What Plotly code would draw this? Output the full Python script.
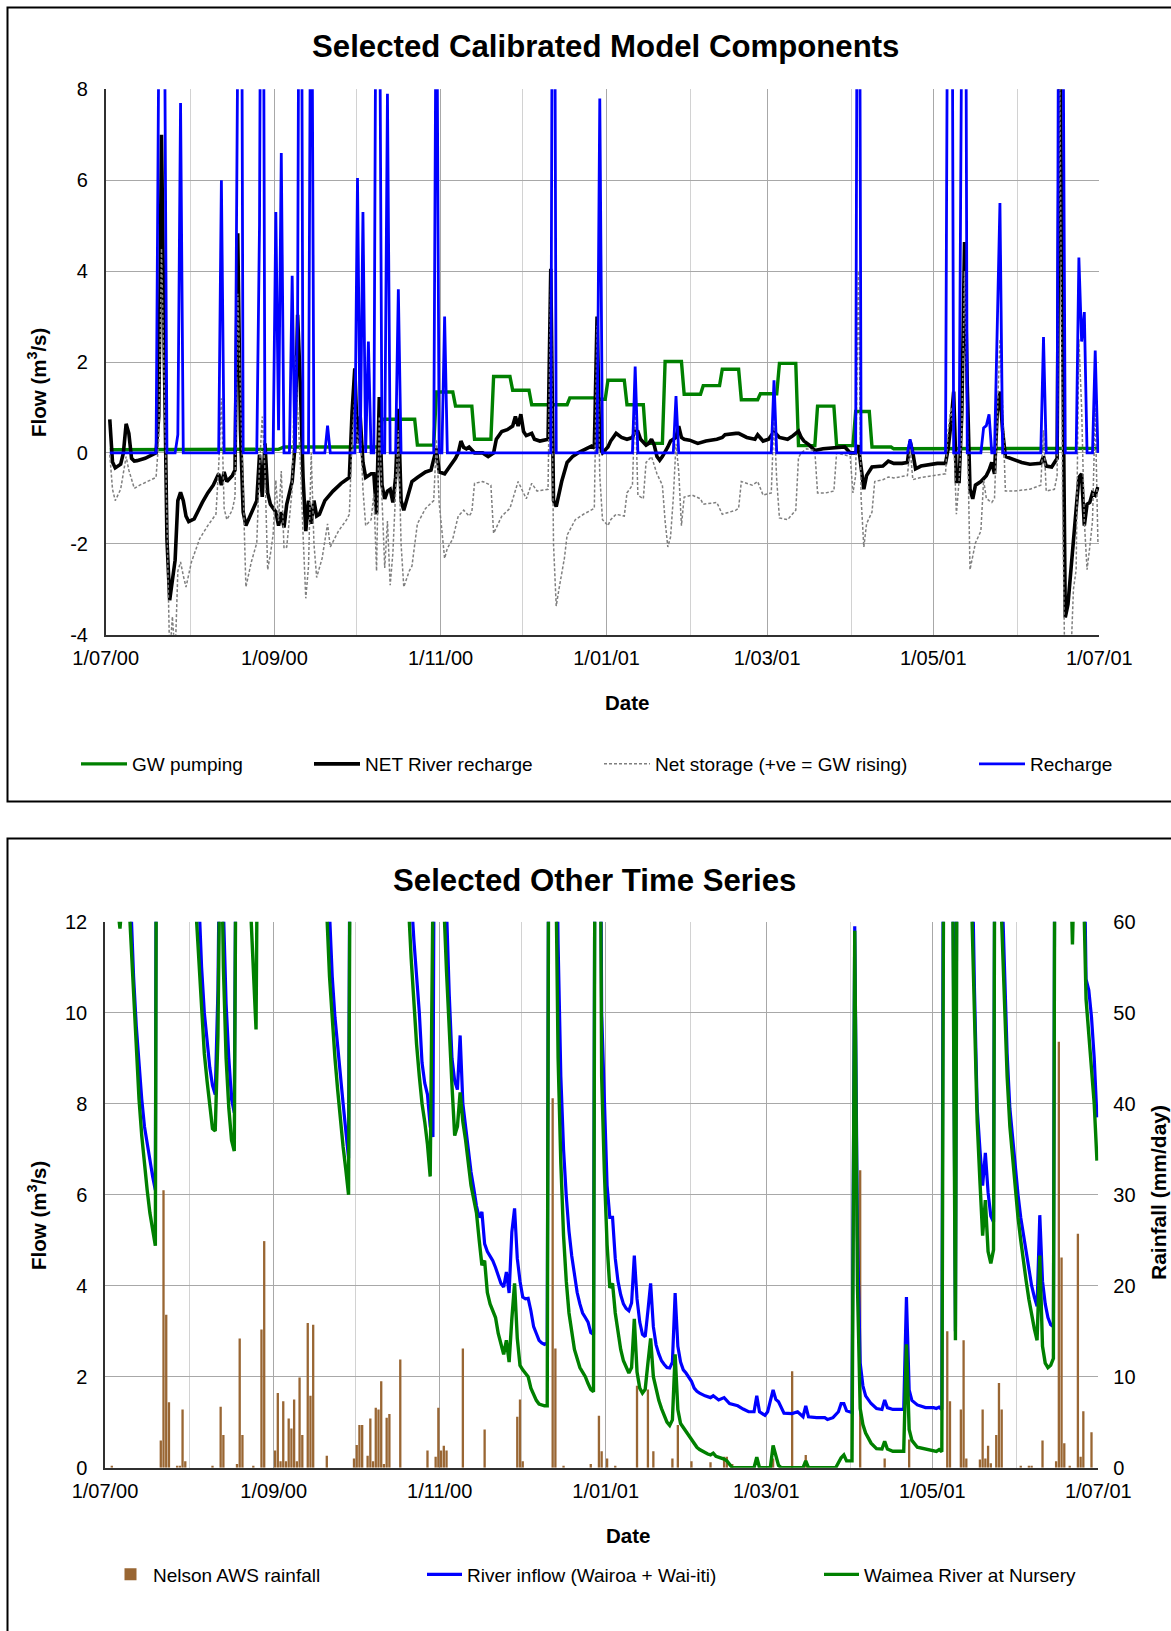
import pandas as pd
import plotly.graph_objects as go

W, H = 1171, 1631
FONT = "Liberation Sans, Arial, sans-serif"
START = pd.Timestamp("2000-07-01")
END = pd.Timestamp("2001-07-01")

# ---------------- data (day offset from 1 Jul 2000, value) ----------------
# Top chart: Selected Calibrated Model Components (m3/s)
GW_PUMPING = [
    (1, 0.07), (63, 0.08), (65, 0.13), (100, 0.13), (101, 0.74), (113, 0.74), (114, 0.17),
    (120, 0.17), (121, 1.34), (127, 1.34), (128, 1.03), (134, 1.03), (135, 0.3), (141, 0.3),
    (142, 1.68), (148, 1.68), (149, 1.38), (155, 1.38), (156, 1.06), (169, 1.06), (170, 1.21),
    (179, 1.21), (180, 1.18), (183, 1.18), (184, 1.6), (190, 1.6), (191, 1.06), (197, 1.06),
    (198, 0.21), (204, 0.21), (205, 2.01), (211, 2.01), (212, 1.29), (218, 1.29), (219, 1.48),
    (225, 1.48), (226, 1.84), (232, 1.84), (233, 1.17), (239, 1.17), (240, 1.3), (246, 1.3),
    (247, 1.97), (253, 1.97), (254, 0.16), (260, 0.16), (261, 1.03), (267, 1.03), (268, 0.16),
    (274, 0.16), (275, 0.91), (280, 0.91), (281, 0.13), (288, 0.13), (289, 0.09), (364, 0.1),
]

NET_RIVER_RECHARGE = [
    (1, 0.74), (2, -0.2), (3, -0.33), (4, -0.3), (5, -0.25), (6, 0.0), (7, 0.64), (8, 0.43),
    (9, -0.12), (10, -0.18), (11, -0.17), (14, -0.12), (17, -0.04), (18, 0.0), (19, 0.8),
    (20, 7.0), (21, 2.3), (22, -1.9), (23, -3.24), (24, -2.74), (25, -2.36), (26, -1.05),
    (27, -0.87), (28, -1.05), (29, -1.39), (30, -1.51), (32, -1.45), (35, -1.09), (37, -0.88),
    (39, -0.71), (41, -0.46), (42, -0.71), (43, -0.42), (44, -0.63), (46, -0.5), (47, -0.38),
    (48, 4.83), (49, 0.5), (50, -1.3), (51, -1.6), (53, -1.3), (55, -1.05), (56, -0.04),
    (57, -0.97), (58, 0.21), (59, -0.88), (60, -1.13), (62, -1.3), (63, -1.6), (64, -1.3),
    (65, -1.64), (66, -1.13), (67, -0.88), (68, -0.63), (69, 0.13), (70, 3.04), (71, 1.48),
    (72, -0.54), (73, -1.72), (74, -1.05), (75, -1.56), (76, -1.05), (77, -1.39), (78, -1.35),
    (80, -1.05), (83, -0.84), (86, -0.67), (89, -0.54), (90, 0.89), (91, 1.86), (92, 0.21),
    (93, 0.8), (94, -0.21), (95, -0.54), (97, -0.46), (98, -0.46), (99, -1.35), (100, 1.23),
    (101, -0.71), (102, -1.01), (103, -0.84), (104, -0.8), (105, -1.09), (106, -0.54),
    (107, 0.97), (108, -1.05), (109, -1.26), (111, -0.88), (112, -0.63), (114, -0.54),
    (117, -0.42), (119, -0.38), (120, -0.12), (121, 0.1), (122, -0.42), (124, -0.46),
    (126, -0.29), (128, -0.12), (129, 0.0), (130, 0.26), (131, 0.12), (132, 0.09), (133, 0.13),
    (135, 0.0), (138, 0.0), (140, -0.08), (142, 0.0), (143, 0.3), (145, 0.47), (147, 0.51),
    (149, 0.59), (150, 0.8), (151, 0.59), (152, 0.85), (153, 0.47), (154, 0.38), (156, 0.43),
    (157, 0.3), (159, 0.26), (162, 0.3), (163, 4.05), (164, -1.05), (165, -1.18), (167, -0.63),
    (169, -0.21), (171, -0.08), (173, 0.0), (176, 0.09), (178, 0.15), (179, 0.11), (180, 3.0),
    (181, 0.13), (182, 0.0), (184, 0.13), (185, 0.26), (187, 0.43), (189, 0.34), (191, 0.3),
    (193, 0.34), (194, 0.48), (195, 0.47), (196, 0.3), (198, 0.17), (199, 0.21), (200, 0.3),
    (201, 0.17), (202, -0.08), (203, -0.16), (204, -0.08), (206, 0.13), (207, 0.26), (209, 0.34),
    (210, 0.59), (211, 0.34), (212, 0.3), (214, 0.28), (217, 0.21), (220, 0.26), (224, 0.3),
    (226, 0.34), (227, 0.4), (231, 0.43), (232, 0.43), (235, 0.34), (238, 0.3), (239, 0.4),
    (241, 0.26), (243, 0.3), (245, 0.47), (247, 0.34), (250, 0.3), (252, 0.38), (254, 0.48),
    (255, 0.34), (256, 0.26), (258, 0.17), (260, 0.05), (263, 0.09), (265, 0.1), (268, 0.13),
    (271, 0.13), (273, 0.0), (275, 0.0), (276, 0.17), (277, -0.3), (278, -0.8), (279, -0.5),
    (281, -0.31), (285, -0.29), (287, -0.18), (289, -0.23), (292, -0.23), (294, -0.21),
    (295, 0.26), (296, 0.0), (297, -0.35), (299, -0.29), (302, -0.25), (305, -0.23),
    (308, -0.23), (309, 0.1), (310, 0.64), (311, 1.35), (312, -0.63), (313, -0.63), (314, 0.89),
    (315, 4.64), (316, 1.48), (317, -0.8), (318, -1.01), (319, -0.71), (321, -0.63), (323, -0.5),
    (324, -0.38), (325, -0.21), (326, -0.46), (327, 0.89), (328, 1.35), (329, 0.47), (330, -0.08),
    (333, -0.15), (336, -0.21), (339, -0.25), (343, -0.23), (344, -0.08), (345, -0.29),
    (347, -0.31), (349, -0.12), (350, 9.5), (351, 2.0), (352, -3.62), (353, -3.33), (354, -2.57),
    (355, -1.89), (356, -1.26), (357, -0.54), (358, -0.46), (359, -1.6), (360, -1.13),
    (361, -1.09), (362, -0.88), (363, -0.93), (364, -0.75),
]

NET_STORAGE = [
    (1, -0.04), (2, -0.8), (3, -1.05), (5, -0.8), (7, -0.08), (8, -0.38), (10, -0.78), (12, -0.71),
    (18, -0.54), (19, 0.3), (20, 4.5), (21, 1.5), (22, -1.5), (23, -4.5), (24, -3.6), (25, -4.5),
    (26, -2.6), (27, -2.4), (28, -2.7), (29, -2.95), (31, -2.4), (34, -1.89), (37, -1.6),
    (40, -1.35), (41, -0.3), (42, 1.2), (43, -1.22), (44, -1.47), (46, -1.26), (47, -0.97),
    (48, 3.5), (49, 1.5), (50, -0.5), (51, -2.95), (53, -2.4), (55, -1.98), (56, -0.3), (57, 0.8),
    (58, -0.4), (59, -2.57), (60, -2.23), (61, -1.8), (62, -0.6), (63, -1.5), (64, -0.4),
    (65, -2.1), (66, -2.07), (67, -1.5), (68, -0.8), (69, 2.15), (70, 1.0), (71, -0.2),
    (72, -1.8), (73, -3.2), (74, -2.5), (75, 0.0), (76, -2.0), (77, -2.74), (79, -2.32),
    (81, -1.56), (82, -2.07), (85, -1.72), (88, -1.47), (89, -1.35), (90, 0.3), (91, 1.2),
    (92, 0.2), (93, 0.6), (94, -0.8), (95, -1.6), (97, -1.47), (98, -0.9), (99, -2.6), (100, 0.8),
    (101, -1.0), (102, -2.53), (103, -1.5), (104, -2.91), (105, -2.2), (106, -0.8), (107, 0.5),
    (108, -2.0), (109, -2.95), (111, -2.6), (112, -2.49), (114, -1.56), (117, -1.22),
    (120, -1.05), (121, 0.3), (122, -1.1), (123, -1.8), (124, -2.32), (125, -2.1), (127, -1.89),
    (129, -1.39), (131, -1.26), (133, -1.39), (134, -1.3), (135, -0.67), (138, -0.63),
    (141, -0.71), (142, -1.77), (145, -1.39), (148, -1.22), (151, -0.63), (154, -1.01),
    (156, -0.67), (158, -0.84), (162, -0.8), (163, 3.8), (164, -2.0), (165, -3.37), (166, -3.0),
    (168, -2.32), (169, -1.81), (172, -1.47), (175, -1.35), (178, -1.26), (179, -1.22),
    (180, 2.8), (181, -0.5), (182, -1.47), (184, -1.6), (185, -1.47), (187, -1.35), (190, -1.39),
    (191, -0.88), (193, -0.71), (194, 1.2), (195, -0.93), (197, -1.01), (198, -0.21),
    (200, -0.08), (202, -0.46), (204, -0.71), (205, -1.5), (206, -2.07), (207, -1.85),
    (208, -1.0), (209, 0.2), (210, -0.4), (211, -1.6), (212, -0.97), (215, -0.93), (218, -1.01),
    (219, -1.13), (224, -1.09), (226, -1.35), (231, -1.26), (232, -1.22), (233, -0.63),
    (237, -0.71), (239, -0.63), (241, -0.93), (244, -0.88), (245, 0.8), (246, -0.6), (247, -1.43),
    (250, -1.47), (253, -1.26), (254, -0.1), (255, 0.0), (257, 0.09), (260, 0.05), (261, -0.88),
    (264, -0.88), (267, -0.84), (268, 0.0), (273, -0.08), (274, -0.88), (275, -0.5), (276, 4.0),
    (277, -1.0), (278, -2.07), (279, -1.56), (281, -1.3), (282, -0.63), (285, -0.59),
    (287, -0.53), (289, -0.55), (294, -0.5), (295, 0.1), (296, -0.59), (299, -0.54), (303, -0.5),
    (308, -0.46), (309, 0.5), (310, 1.0), (311, 0.4), (312, -1.35), (313, -0.6), (314, 0.5),
    (315, 4.0), (316, 0.5), (317, -2.57), (319, -1.98), (321, -1.72), (322, -0.6), (323, -1.0),
    (324, -1.05), (325, -1.09), (326, -1.0), (327, 0.6), (328, 2.5), (329, 1.0), (330, -0.84),
    (333, -0.84), (339, -0.8), (343, -0.71), (344, 0.5), (345, -0.84), (348, -0.8), (349, -0.5),
    (350, 8.5), (351, -1.0), (352, -5.5), (353, -5.0), (354, -4.6), (355, -3.0), (356, -2.57),
    (357, 2.5), (358, 1.0), (359, -1.5), (360, -2.57), (361, -2.07), (362, -1.5), (363, 1.0),
    (364, -2.0),
]

RECHARGE = [
    (1, 0), (18, 0), (19, 9), (20, 20), (21, 11), (22, 0), (25, 0), (26, 0.4), (27, 7.7), (28, 0),
    (41, 0), (42, 6.0), (43, 0), (47, 0), (48, 9), (49, 20), (50, 0), (55, 0), (56, 5), (57, 20),
    (58, 0), (61, 0), (62, 5.3), (63, 0.5), (64, 6.6), (65, 0), (67, 0), (68, 3.9), (69, 0),
    (70, 3), (71, 20), (72, 0), (74, 0), (75, 14), (76, 0), (80, 0), (81, 0.6), (82, 0), (91, 0),
    (92, 6.05), (93, 0), (94, 5.3), (95, 0), (96, 2.45), (97, 0), (98, 0), (99, 14), (100, 12),
    (101, 0), (102, 0), (103, 7.9), (104, 0), (106, 0), (107, 3.6), (108, 0), (120, 0), (121, 12),
    (122, 0), (123, 0), (124, 3.0), (125, 0), (163, 0), (164, 20), (165, 0), (180, 0), (181, 7.8),
    (182, 0), (193, 0), (194, 1.9), (195, 0), (208, 0), (209, 1.25), (210, 0), (244, 0),
    (245, 1.6), (246, 0), (275, 0), (276, 20), (277, 0), (294, 0), (295, 0.3), (296, 0), (308, 0),
    (309, 14), (310, 20), (311, 0), (313, 0), (314, 9), (315, 20), (316, 0), (321, 0), (322, 0.55),
    (323, 0.6), (324, 0.85), (325, 0), (326, 0), (327, 2.5), (328, 5.5), (329, 0), (343, 0),
    (344, 2.55), (345, 0), (349, 0), (350, 20), (351, 12), (352, 0), (356, 0), (357, 4.3),
    (358, 2.45), (359, 3.1), (360, 0), (362, 0), (363, 2.25), (364, 0),
]

# Bottom chart: Selected Other Time Series
RAINFALL = [  # mm/day
    (2, 0.2), (20, 3.0), (21, 30.5), (22, 16.8), (23, 7.2), (26, 0.2), (27, 0.2), (28, 6.4),
    (29, 0.7), (39, 0.2), (42, 6.7), (43, 3.6), (48, 0.4), (49, 14.2), (50, 3.6), (54, 0.2),
    (57, 15.2), (58, 24.9), (62, 1.9), (63, 8.2), (64, 0.7), (65, 7.3), (66, 0.7), (67, 5.4),
    (68, 4.3), (69, 7.5), (70, 0.7), (71, 9.9), (72, 3.6), (74, 15.9), (75, 7.9), (76, 15.7),
    (81, 1.3), (91, 1.0), (92, 2.5), (93, 4.7), (94, 4.7), (96, 1.3), (97, 5.4), (98, 0.7),
    (99, 6.6), (100, 6.4), (101, 9.5), (102, 0.4), (103, 5.5), (104, 5.9), (108, 11.9),
    (118, 1.9), (121, 1.2), (122, 6.6), (123, 1.9), (124, 2.4), (125, 1.9), (131, 13.1),
    (139, 4.2), (151, 5.6), (152, 7.5), (153, 0.7), (164, 40.6), (165, 13.1), (168, 0.2),
    (178, 0.4), (181, 5.7), (182, 1.8), (184, 1.0), (187, 0.2), (195, 9.0), (199, 8.6),
    (201, 1.8), (208, 1.0), (210, 4.7), (215, 0.7), (222, 0.6), (227, 1.2), (228, 1.2),
    (230, 0.4), (245, 1.0), (252, 10.6), (257, 1.4), (277, 32.7), (286, 1.0), (295, 3.1),
    (309, 15.0), (310, 7.3), (314, 6.4), (315, 14.0), (316, 1.0), (321, 0.9), (322, 6.4),
    (323, 1.0), (324, 2.4), (325, 0.5), (327, 3.6), (328, 9.3), (329, 6.4), (336, 0.2),
    (339, 0.2), (340, 0.2), (344, 3.0), (349, 0.7), (350, 46.8), (351, 23.1), (352, 2.7),
    (354, 0.2), (357, 25.7), (358, 1.2), (359, 6.2), (362, 3.9),
]

RIVER_INFLOW = [  # Wairoa + Wai-iti, m3/s
    (0, 25), (4, 18), (8, 14), (9, 12.4), (10, 10.8), (11, 9.7), (12, 8.8), (13, 8.1), (14, 7.5),
    (15, 7.1), (16, 6.75), (17, 6.4), (18, 6.1), (19, 32), (25, 24), (30, 17), (33, 14),
    (34, 12.3), (35, 11.0), (36, 10.0), (37, 9.3), (38, 8.8), (39, 8.4), (40, 8.2), (41, 10.5),
    (42, 16), (43, 12.3), (44, 10.2), (45, 9.0), (46, 8.1), (47, 7.8), (48, 18), (55, 13.5),
    (56, 18), (70, 22), (80, 15), (81, 13.6), (82, 12.0), (83, 10.8), (84, 9.9), (85, 9.2),
    (86, 8.6), (87, 8.0), (88, 7.4), (89, 6.8), (90, 22), (100, 24), (110, 15), (111, 14.0),
    (112, 12.6), (113, 11.6), (114, 10.8), (115, 10.0), (116, 8.9), (117, 8.45), (118, 8.2),
    (119, 7.5), (120, 7.27), (121, 22), (123, 16), (124, 14), (125, 12.2), (126, 10.4),
    (127, 9.0), (128, 8.5), (129, 8.31), (130, 9.5), (131, 8.0), (132, 7.5), (133, 6.9),
    (134, 6.5), (135, 6.14), (136, 5.75), (137, 5.5), (138, 5.62), (139, 4.92), (140, 4.75),
    (141, 4.65), (142, 4.55), (143, 4.4), (144, 4.2), (145, 4.05), (146, 3.97), (147, 4.3),
    (148, 3.84), (149, 5.18), (150, 5.7), (151, 4.6), (152, 4.1), (153, 3.75), (154, 3.71),
    (155, 3.72), (156, 3.45), (157, 3.1), (158, 2.95), (159, 2.8), (160, 2.74), (161, 2.71),
    (162, 2.74), (163, 25), (165, 16), (166, 11.5), (167, 8.6), (168, 7.0), (169, 5.97),
    (170, 5.2), (171, 4.66), (172, 4.2), (173, 3.85), (174, 3.6), (175, 3.4), (176, 3.3),
    (177, 3.2), (178, 2.97), (179, 2.93), (180, 25), (181, 22), (182, 10.0), (183, 7.8),
    (184, 6.2), (185, 5.5), (186, 5.5), (187, 4.6), (188, 4.1), (189, 3.8), (190, 3.6),
    (191, 3.5), (192, 3.45), (193, 3.62), (194, 4.66), (195, 3.71), (196, 3.2), (197, 2.93),
    (198, 2.88), (199, 3.45), (200, 4.05), (201, 3.1), (202, 2.7), (203, 2.5), (204, 2.35),
    (205, 2.27), (206, 2.2), (207, 2.19), (208, 2.32), (209, 3.84), (210, 2.67), (211, 2.32),
    (212, 2.15), (213, 2.08), (214, 2.0), (215, 1.9), (216, 1.75), (217, 1.68), (218, 1.64),
    (220, 1.58), (222, 1.54), (223, 1.58), (225, 1.49), (227, 1.54), (229, 1.41), (232, 1.36),
    (234, 1.29), (236, 1.23), (238, 1.23), (239, 1.58), (240, 1.23), (242, 1.15), (243, 1.23),
    (245, 1.71), (246, 1.5), (247, 1.45), (249, 1.2), (252, 1.19), (254, 1.23), (256, 1.12),
    (257, 1.36), (258, 1.12), (261, 1.1), (264, 1.1), (265, 1.06), (267, 1.1), (269, 1.23),
    (270, 1.41), (271, 1.41), (272, 1.25), (274, 1.21), (275, 11.9), (276, 5.1), (277, 2.3),
    (278, 1.8), (279, 1.58), (281, 1.41), (283, 1.3), (285, 1.28), (286, 1.49), (287, 1.32),
    (289, 1.28), (293, 1.28), (294, 3.75), (295, 1.71), (296, 1.48), (298, 1.38), (301, 1.32),
    (304, 1.32), (305, 1.3), (306, 1.33), (307, 1.28), (308, 25), (310, 30), (311, 14),
    (312, 3.0), (313, 25), (316, 20), (317, 16), (318, 14.0), (319, 10.5), (320, 7.9), (321, 7.0),
    (322, 6.2), (323, 6.92), (324, 6.05), (325, 5.53), (326, 5.4), (327, 25), (328, 16),
    (329, 13.0), (330, 10.8), (331, 9.1), (332, 7.9), (333, 7.2), (334, 6.5), (335, 6.0),
    (336, 5.5), (337, 5.1), (338, 4.7), (339, 4.35), (340, 4.0), (341, 3.75), (342, 3.55),
    (343, 5.55), (344, 4.1), (345, 3.6), (346, 3.3), (347, 3.14), (348, 3.1), (349, 25),
    (359, 15), (360, 10.74), (361, 10.5), (362, 9.9), (363, 9.0), (364, 7.7),
]

WAIMEA_NURSERY = [  # m3/s
    (0, 22), (3, 16), (4, 12.4), (5, 11.85), (6, 12.6), (7, 13.6), (8, 12.8), (9, 11.6),
    (10, 10.2), (11, 9.0), (12, 8.1), (13, 7.3), (14, 6.6), (15, 6.1), (16, 5.6), (17, 5.2),
    (18, 4.88), (19, 30), (25, 22), (30, 15), (32, 13.2), (33, 12.2), (34, 10.9), (35, 9.9),
    (36, 9.1), (37, 8.5), (38, 7.9), (39, 7.45), (40, 7.4), (41, 9.5), (42, 15), (43, 11.0),
    (44, 9.0), (45, 7.9), (46, 7.2), (47, 6.96), (48, 18), (52, 14), (53, 12.3), (54, 10.8),
    (55, 9.63), (56, 18), (70, 20), (78, 15), (80, 13.2), (81, 12.2), (82, 10.8), (83, 9.8),
    (84, 9.0), (85, 8.3), (86, 7.6), (87, 7.05), (88, 6.55), (89, 6.0), (90, 20), (100, 22),
    (108, 15), (110, 13.3), (111, 12.4), (112, 11.2), (113, 10.2), (114, 9.3), (115, 8.6),
    (116, 8.0), (117, 7.6), (118, 7.1), (119, 6.4), (120, 20), (122, 25), (123, 15),
    (124, 12.4), (125, 10.9), (126, 9.5), (127, 8.4), (128, 7.3), (129, 7.5), (130, 8.25),
    (131, 7.6), (132, 7.2), (133, 6.7), (134, 6.2), (135, 5.9), (136, 5.6), (137, 5.0),
    (138, 4.45), (139, 4.55), (140, 3.85), (141, 3.6), (142, 3.45), (143, 3.3), (144, 2.95),
    (145, 2.7), (146, 2.49), (147, 2.8), (148, 2.32), (149, 3.27), (150, 4.05), (151, 2.84),
    (152, 2.25), (153, 2.15), (154, 2.08), (155, 2.0), (156, 1.75), (157, 1.6), (158, 1.48),
    (159, 1.4), (160, 1.37), (161, 1.36), (162, 1.36), (163, 25), (165, 14), (166, 9.0),
    (167, 6.7), (168, 5.1), (169, 4.1), (170, 3.4), (171, 3.0), (172, 2.6), (173, 2.4),
    (174, 2.2), (175, 2.1), (176, 2.0), (177, 1.85), (178, 1.72), (179, 1.67), (180, 25),
    (181, 20), (182, 8.6), (183, 6.5), (184, 4.9), (185, 3.95), (186, 4.05), (187, 3.4),
    (188, 2.95), (189, 2.6), (190, 2.35), (191, 2.2), (192, 2.08), (193, 2.2), (194, 3.27),
    (195, 2.1), (196, 1.75), (197, 1.64), (198, 1.72), (199, 2.3), (200, 2.84), (201, 2.0),
    (202, 1.7), (203, 1.48), (204, 1.3), (205, 1.15), (206, 1.0), (207, 0.93), (208, 1.05),
    (209, 2.49), (210, 1.28), (211, 0.97), (212, 0.88), (213, 0.8), (214, 0.72), (215, 0.64),
    (216, 0.52), (217, 0.45), (218, 0.4), (219, 0.36), (220, 0.33), (221, 0.3), (222, 0.28),
    (223, 0.32), (224, 0.25), (225, 0.23), (227, 0.19), (228, 0.15), (229, 0.08), (230, 0.0),
    (238, 0.0), (239, 0.23), (240, 0.0), (244, 0.0), (245, 0.49), (246, 0.23), (247, 0.05),
    (248, 0.0), (256, 0.0), (257, 0.15), (258, 0.0), (268, 0.0), (269, 0.1), (270, 0.22),
    (271, 0.28), (272, 0.15), (274, 0.15), (275, 11.8), (276, 4.0), (277, 1.3), (278, 0.95),
    (279, 0.76), (281, 0.54), (283, 0.42), (285, 0.41), (286, 0.58), (287, 0.41), (289, 0.36),
    (293, 0.36), (294, 2.71), (295, 0.84), (296, 0.6), (298, 0.45), (301, 0.41), (304, 0.38),
    (305, 0.36), (306, 0.4), (307, 0.35), (308, 20), (310, 28), (311, 13), (312, 2.8),
    (313, 22), (316, 18), (317, 14), (318, 12.3), (319, 10.0), (320, 7.6), (321, 6.3),
    (322, 5.1), (323, 5.88), (324, 4.75), (325, 4.49), (326, 4.79), (327, 25), (328, 14),
    (329, 12.0), (330, 10.0), (331, 8.6), (332, 7.5), (333, 6.8), (334, 6.1), (335, 5.5),
    (336, 5.0), (337, 4.5), (338, 4.1), (339, 3.7), (340, 3.35), (341, 3.05), (342, 2.8),
    (343, 4.66), (344, 2.67), (345, 2.3), (346, 2.2), (347, 2.25), (348, 2.4), (349, 25),
    (354, 14), (355, 11.5), (356, 14), (359, 13), (360, 10.3), (361, 9.6), (362, 8.9),
    (363, 8.0), (364, 6.75),
]

FLOW_TICKS_TOP = [-4, -2, 0, 2, 4, 6, 8]
FLOW_TICKS_BOTTOM = [0, 2, 4, 6, 8, 10, 12]
RAIN_TICKS = [0, 10, 20, 30, 40, 50, 60]


def series(pairs):
    """Daily values are drawn in the middle of each day slot (as in the source chart)."""
    dates = [START + pd.Timedelta(days=d, hours=12) for d, _ in pairs]
    values = [v for _, v in pairs]
    return dates, values


def px(x):
    return x / W


def py(y):
    return 1 - y / H


GREEN = "#008000"
BLUE = "#0000FF"
BROWN = "#996633"
GRID_MAJOR = "#a8a8a8"
GRID_MINOR = "#d2d2d2"
AXIS = "#303030"

fig = go.Figure()

d, v = series(GW_PUMPING)
fig.add_trace(go.Scatter(x=d, y=v, name="GW pumping", mode="lines",
                         line=dict(color=GREEN, width=3.4), xaxis="x", yaxis="y", legend="legend"))
d, v = series(NET_RIVER_RECHARGE)
fig.add_trace(go.Scatter(x=d, y=v, name="NET River recharge", mode="lines",
                         line=dict(color="black", width=3.6), xaxis="x", yaxis="y", legend="legend2"))
d, v = series(NET_STORAGE)
fig.add_trace(go.Scatter(x=d, y=v, name="Net storage (+ve = GW rising)", mode="lines",
                         line=dict(color="#7f7f7f", width=1.5, dash="3px,2px"),
                         xaxis="x", yaxis="y", legend="legend3"))
d, v = series(RECHARGE)
fig.add_trace(go.Scatter(x=d, y=v, name="Recharge", mode="lines",
                         line=dict(color=BLUE, width=2.8), xaxis="x", yaxis="y", legend="legend4"))

d, v = series(RAINFALL)
fig.add_trace(go.Bar(x=d, y=v, name="Nelson AWS rainfall", marker=dict(color=BROWN, line=dict(width=0)),
                     width=0.85 * 86400000, xaxis="x2", yaxis="y2", legend="legend5"))
d, v = series(RIVER_INFLOW)
fig.add_trace(go.Scatter(x=d, y=v, name="River inflow (Wairoa + Wai-iti)", mode="lines",
                         line=dict(color=BLUE, width=3.2), xaxis="x2", yaxis="y3", legend="legend6"))
d, v = series(WAIMEA_NURSERY)
fig.add_trace(go.Scatter(x=d, y=v, name="Waimea River at Nursery", mode="lines",
                         line=dict(color=GREEN, width=3.4), xaxis="x2", yaxis="y3", legend="legend7"))

tickfont = dict(family=FONT, size=20, color="black")
xcommon = dict(
    type="date", range=[START, END], dtick="M2", tick0="2000-07-01", tickformat="%-d/%m/%y",
    showgrid=True, gridcolor=GRID_MAJOR, gridwidth=1,
    minor=dict(dtick="M1", tick0="2000-07-01", showgrid=True, gridcolor=GRID_MINOR, gridwidth=1),
    showline=True, linecolor=AXIS, linewidth=1.5, ticks="", tickfont=tickfont, zeroline=False,
    ticklabelstandoff=5, fixedrange=True, automargin=False,
)


def legend_cfg(x_px, y_px, item_w):
    return dict(x=px(x_px), y=py(y_px), xanchor="left", yanchor="middle", orientation="h",
                font=dict(family=FONT, size=19, color="black"), bgcolor="rgba(0,0,0,0)",
                borderwidth=0, itemwidth=item_w)


annotations = [
    dict(text="<b>Selected Calibrated Model Components</b>", x=px(605), y=py(47),
         font=dict(size=31.2)),
    dict(text="<b>Date</b>", x=px(627), y=py(702), font=dict(size=20.5)),
    dict(text="<b>Flow (m<sup>3</sup>/s)</b>", x=px(37), y=py(383), textangle=-90,
         font=dict(size=20.5)),
    dict(text="<b>Selected Other Time Series</b>", x=px(594), y=py(880), font=dict(size=31.2)),
    dict(text="<b>Date</b>", x=px(628), y=py(1535), font=dict(size=20.5)),
    dict(text="<b>Flow (m<sup>3</sup>/s)</b>", x=px(37), y=py(1216), textangle=-90,
         font=dict(size=20.5)),
    dict(text="<b>Rainfall (mm/day)</b>", x=px(1158), y=py(1193), textangle=-90,
         font=dict(size=21)),
]
for a in annotations:
    a.update(xref="paper", yref="paper", showarrow=False, xanchor="center", yanchor="middle")
    a["font"].update(family=FONT, color="black")

shapes = [
    dict(type="rect", xref="paper", yref="paper", x0=px(7.5), x1=1.02, y0=py(801.5), y1=py(7.5),
         line=dict(color="black", width=2), fillcolor="rgba(0,0,0,0)", layer="above"),
    dict(type="rect", xref="paper", yref="paper", x0=px(7.5), x1=1.02, y0=-0.02, y1=py(838.5),
         line=dict(color="black", width=2), fillcolor="rgba(0,0,0,0)", layer="above"),
]

fig.update_layout(
    width=W, height=H, margin=dict(l=0, r=0, t=0, b=0, pad=0, autoexpand=False),
    paper_bgcolor="white", plot_bgcolor="white",
    font=dict(family=FONT, size=19, color="black"),
    showlegend=True,
    xaxis=dict(xcommon, domain=[px(105.7), px(1099.3)], anchor="y"),
    yaxis=dict(domain=[py(634.7), py(89.3)], anchor="x", range=[-4, 8],
               tickvals=FLOW_TICKS_TOP, ticktext=[str(t) for t in FLOW_TICKS_TOP],
               showgrid=True, gridcolor=GRID_MAJOR, gridwidth=1, zeroline=False,
               showline=True, linecolor=AXIS, linewidth=1.5, ticks="", tickfont=tickfont,
               ticklabelstandoff=12, fixedrange=True, automargin=False),
    xaxis2=dict(xcommon, domain=[px(105), px(1098.3)], anchor="y2"),
    yaxis2=dict(domain=[py(1467.7), py(921.7)], anchor="x2", range=[0, 60], side="right",
                tickvals=RAIN_TICKS, ticktext=[str(t) for t in RAIN_TICKS],
                showgrid=True, gridcolor=GRID_MAJOR, gridwidth=1, zeroline=False,
                showline=False, ticks="", tickfont=tickfont, ticklabelstandoff=14,
                fixedrange=True, automargin=False),
    yaxis3=dict(overlaying="y2", anchor="x2", side="left", range=[0, 12],
                tickvals=FLOW_TICKS_BOTTOM, ticktext=[str(t) for t in FLOW_TICKS_BOTTOM],
                showgrid=False, zeroline=False, showline=True, linecolor=AXIS, linewidth=1.5,
                ticks="", tickfont=tickfont, ticklabelstandoff=12, fixedrange=True,
                automargin=False),
    legend=legend_cfg(76, 764, 46),
    legend2=legend_cfg(309, 764, 46),
    legend3=legend_cfg(599, 764, 46),
    legend4=legend_cfg(974, 764, 46),
    legend5=legend_cfg(108, 1574.5, 35),
    legend6=legend_cfg(422, 1574.5, 35),
    legend7=legend_cfg(819, 1574.5, 35),
    annotations=annotations,
    shapes=shapes,
    barmode="overlay",
)

fig.write_html("out.html")
